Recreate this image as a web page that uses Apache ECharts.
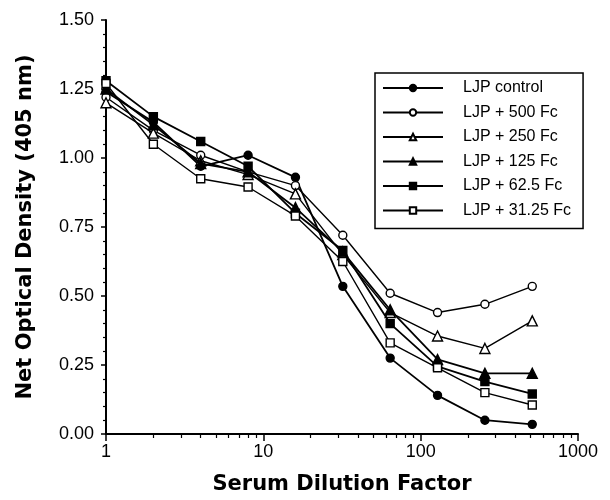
<!DOCTYPE html>
<html>
<head>
<meta charset="utf-8">
<script src="https://cdn.jsdelivr.net/npm/echarts@6/dist/echarts.min.js"></script>
<style>html,body{margin:0;padding:0;background:#fff}#c{width:610px;height:500px}</style>
</head>
<body>
<div id="c"></div>
<script>
const dilutions = [1, 2, 4, 8, 16, 32, 64, 128, 256, 512];
const seriesNames = ['LJP control', 'LJP + 500 Fc', 'LJP + 250 Fc', 'LJP + 125 Fc', 'LJP + 62.5 Fc', 'LJP + 31.25 Fc'];
const ljpControl = [1.24, 1.13, 0.97, 1.01, 0.93, 0.535, 0.275, 0.14, 0.05, 0.035];
const ljp500 = [1.22, 1.10, 1.01, 0.95, 0.90, 0.72, 0.51, 0.44, 0.47, 0.535];
const ljp250 = [1.20, 1.09, 0.99, 0.94, 0.87, 0.65, 0.44, 0.355, 0.31, 0.41];
const ljp125 = [1.25, 1.12, 0.98, 0.95, 0.82, 0.66, 0.45, 0.27, 0.22, 0.22];
const ljp62 = [1.28, 1.15, 1.06, 0.97, 0.80, 0.665, 0.40, 0.245, 0.19, 0.145];
const ljp31 = [1.27, 1.05, 0.925, 0.895, 0.79, 0.625, 0.33, 0.24, 0.15, 0.105];
const xMinorTicks = [2,3,4,5,6,7,8,9,20,30,40,50,60,70,80,90,200,300,400,500,600,700,800,900];

const FONT = 'Liberation Sans, Arial, Helvetica, sans-serif';
const TITLE_FONT = 'DejaVu Sans, Liberation Sans, Arial, sans-serif';
const allValues = [ljpControl, ljp500, ljp250, ljp125, ljp62, ljp31];
const symbols = ['circle', 'circle', 'triangle', 'triangle', 'rect', 'rect'];
const filled = [true, false, false, true, true, false];
const sizes = [8, 8, 10, 10, 8, 8];

const series = allValues.map((vals, i) => ({
  name: seriesNames[i],
  type: 'line',
  data: dilutions.map((d, j) => [d, vals[j]]),
  symbol: symbols[i],
  symbolSize: sizes[i],
  lineStyle: { color: '#000', width: filled[i] ? 1.8 : 1.4 },
  itemStyle: { color: filled[i] ? '#000' : '#fff', borderColor: '#000', borderWidth: 1.4 },
  emphasis: { disabled: true },
  animation: false,
  z: 2 + i
}));

const chart = echarts.init(document.getElementById('c'), null, { renderer: 'canvas' });
chart.setOption({
  backgroundColor: '#fff',
  animation: false,
  textStyle: { fontFamily: FONT },
  grid: { left: 106, right: 32, top: 20, bottom: 66 },
  xAxis: [{
    type: 'log', logBase: 10, min: 1, max: 1000,
    name: 'Serum Dilution Factor', nameLocation: 'middle', nameGap: 40,
    nameTextStyle: { fontFamily: TITLE_FONT, fontSize: 21, fontWeight: 'bold', color: '#000' },
    axisLine: { lineStyle: { color: '#000', width: 2 } },
    axisTick: { length: 7, lineStyle: { color: '#000', width: 1.5 } },
    axisLabel: { fontFamily: FONT, fontSize: 18, color: '#000', margin: 9, formatter: v => String(Math.round(v)) },
    splitLine: { show: false }, minorTick: { show: false }
  }, {
    type: 'log', logBase: 10, min: 1, max: 1000, position: 'bottom',
    axisLine: { show: false },
    axisTick: { show: true, length: 4, customValues: xMinorTicks, lineStyle: { color: '#000', width: 1.2 } },
    axisLabel: { show: false },
    splitLine: { show: false }
  }],
  yAxis: {
    type: 'value', min: 0, max: 1.5, interval: 0.25,
    name: 'Net Optical Density (405 nm)', nameLocation: 'middle', nameGap: 70,
    nameTextStyle: { fontFamily: TITLE_FONT, fontSize: 21, fontWeight: 'bold', color: '#000' },
    axisLine: { show: true, lineStyle: { color: '#000', width: 2 } },
    axisTick: { show: true, length: 5, lineStyle: { color: '#000', width: 1.5 } },
    minorTick: { show: true, splitNumber: 5, length: 3, lineStyle: { color: '#000', width: 1.2 } },
    axisLabel: { fontFamily: FONT, fontSize: 18, color: '#000', margin: 12, formatter: v => v.toFixed(2) },
    splitLine: { show: false }
  },
  legend: {
    orient: 'vertical', left: 375, top: 73,
    padding: [7, 12, 10, 7],
    itemWidth: 60, itemHeight: 8, itemGap: 8.5,
    borderColor: '#000', borderWidth: 1.5,
    textStyle: { fontFamily: FONT, fontSize: 16, color: '#000', padding: [0, 0, 0, 15] },
    data: seriesNames,
    selectedMode: false
  },
  series: series
});
</script>
</body>
</html>
